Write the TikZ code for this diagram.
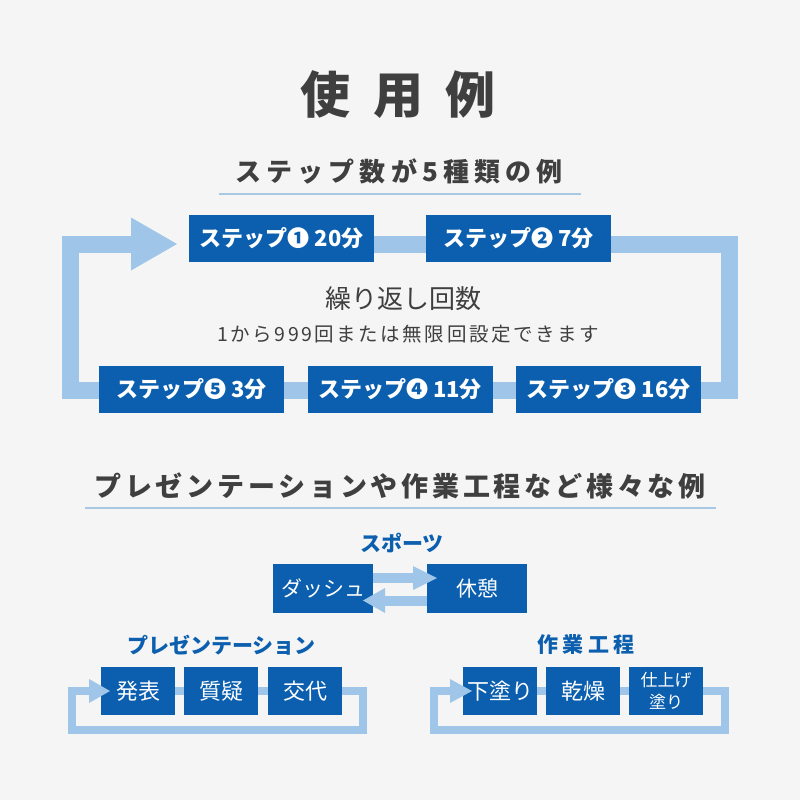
\documentclass[tikz,border=0pt]{standalone}
\usepackage{fontspec}
\setmainfont{Noto Sans CJK JP}
\definecolor{bg}{HTML}{F5F5F5}
\definecolor{boxblue}{HTML}{0B5FAE}
\definecolor{bandc}{HTML}{9FC5E8}
\definecolor{ink}{HTML}{3F3F3F}
\definecolor{rulec}{HTML}{A9C8E3}
\tikzset{
  base/.style={fill=boxblue, text=white, inner sep=0pt, align=center},
  stepbox/.style={base, minimum width=185pt, minimum height=47pt, font=\fontsize{22}{26}\selectfont\bfseries},
  sbox/.style={base, minimum width=100pt, minimum height=49pt, font=\fontsize{21}{24}\selectfont},
  pbox/.style={base, minimum width=74pt, minimum height=48pt, font=\fontsize{22}{26}\selectfont},
  bigband/.style={draw=bandc, line width=17pt, line join=miter},
  smallband/.style={draw=bandc, line width=8pt, line join=miter},
  sarrow/.style={draw=bandc, line width=10pt},
  head/.style={fill=bandc},
  heading/.style={text=ink, inner sep=0pt},
  bluehead/.style={text=boxblue, inner sep=0pt, font=\fontsize{21}{24}\selectfont\bfseries},
  rulel/.style={draw=rulec, line width=1.5pt}
}
\begin{document}
\begin{tikzpicture}[x=1pt,y=-1pt]
\fill[bg] (0,0) rectangle (800,800);
\useasboundingbox (0,0) rectangle (800,800);

% titles
\node[heading, font=\fontsize{50}{56}\selectfont\bfseries\addfontfeatures{LetterSpace=45}] (title) at (398,95) {使用例};
\node[heading, font=\fontsize{26}{30}\selectfont\bfseries\addfontfeatures{LetterSpace=20}] (sub1) at (399,171) {ステップ数が5種類の例};
\coordinate (r1a) at (219,194); \coordinate (r1b) at (581,194);
\draw[rulel] (r1a) -- (r1b);

% big loop
\coordinate (bStart) at (281.5,244);
\coordinate (bTR) at (729,244);
\coordinate (bBR) at (729,390.5);
\coordinate (bBL) at (70,390.5);
\coordinate (bTL) at (70,244);
\coordinate (bBase) at (131,244);
\coordinate (bTip) at (177,244);
\draw[bigband] (bStart) -- (bTR) -- (bBR) -- (bBL) -- (bTL) -- ([xshift=1pt]bBase);
\fill[head] (131,217.5) -- (bTip) -- (131,270.5) -- cycle;
\node[stepbox] (s1) at (281.5,238.5) {ステップ❶ 20分};
\node[stepbox] (s2) at (518.5,238.5) {ステップ❷ 7分};
\node[stepbox] (s3) at (608.5,389.5) {ステップ❸ 16分};
\node[stepbox] (s4) at (400,389.5) {ステップ❹ 11分};
\node[stepbox] (s5) at (191.5,389.5) {ステップ❺ 3分};

\node[heading, font=\fontsize{26}{30}\selectfont] (rep) at (403,299) {繰り返し回数};
\node[heading, font=\fontsize{19.5}{24}\selectfont\addfontfeatures{LetterSpace=13}] (repn) at (408,334) {1から999回または無限回設定できます};

% second part
\node[heading, font=\fontsize{27}{30}\selectfont\bfseries\addfontfeatures{LetterSpace=14}] (sub2) at (400,486) {プレゼンテーションや作業工程など様々な例};
\coordinate (r2a) at (85,508); \coordinate (r2b) at (716,508);
\draw[rulel] (r2a) -- (r2b);

% sports
\node[bluehead] (sport) at (402,543) {スポーツ};
\node[sbox] (dash) at (323,588.5) {ダッシュ};
\node[sbox] (rest) at (477,588.5) {休憩};
\coordinate (sa1) at (413,578);
\coordinate (sa2) at (385,600.5);
\draw[sarrow] ([yshift=10.5pt]dash.east) -- ([xshift=1pt]sa1);
\fill[head] (413,566) -- (437,578) -- (413,590) -- cycle;
\draw[sarrow] ([yshift=-12pt]rest.west) -- ([xshift=-1pt]sa2);
\fill[head] (385,588) -- (363,600.5) -- (385,613) -- cycle;

% presentation
\node[bluehead] (pres) at (221.5,645) {プレゼンテーション};
\coordinate (pTR) at (363,691);
\coordinate (pBR) at (363,729.5);
\coordinate (pBL) at (71.5,729.5);
\coordinate (pTL) at (71.5,691);
\coordinate (pBase) at (89,691);
\coordinate (p1) at (138,691);
\draw[smallband] (p1) -- (pTR) -- (pBR) -- (pBL) -- (pTL) -- ([xshift=1pt]pBase);
\node[pbox] (pa) at (138,691) {発表};
\node[pbox] (pb) at (221,691) {質疑};
\node[pbox] (pc) at (305,691) {交代};
\fill[head] (89,679) -- (110,691) -- (89,703) -- cycle;

% work process
\node[bluehead, font=\fontsize{21}{24}\selectfont\bfseries\addfontfeatures{LetterSpace=20}] (work) at (586,645) {作業工程};
\coordinate (wTR) at (725,691);
\coordinate (wBR) at (725,729.5);
\coordinate (wBL) at (434,729.5);
\coordinate (wTL) at (434,691);
\coordinate (wBase) at (450,691);
\coordinate (w1) at (500,691);
\draw[smallband] (w1) -- (wTR) -- (wBR) -- (wBL) -- (wTL) -- ([xshift=1pt]wBase);
\node[pbox] (wa) at (500,691) {下塗り};
\node[pbox] (wb) at (583,691) {乾燥};
\node[pbox, font=\fontsize{17}{22}\selectfont] (wc) at (666,691) {仕上げ\\塗り};
\fill[head] (450,679) -- (472,691) -- (450,703) -- cycle;
\end{tikzpicture}
\end{document}
